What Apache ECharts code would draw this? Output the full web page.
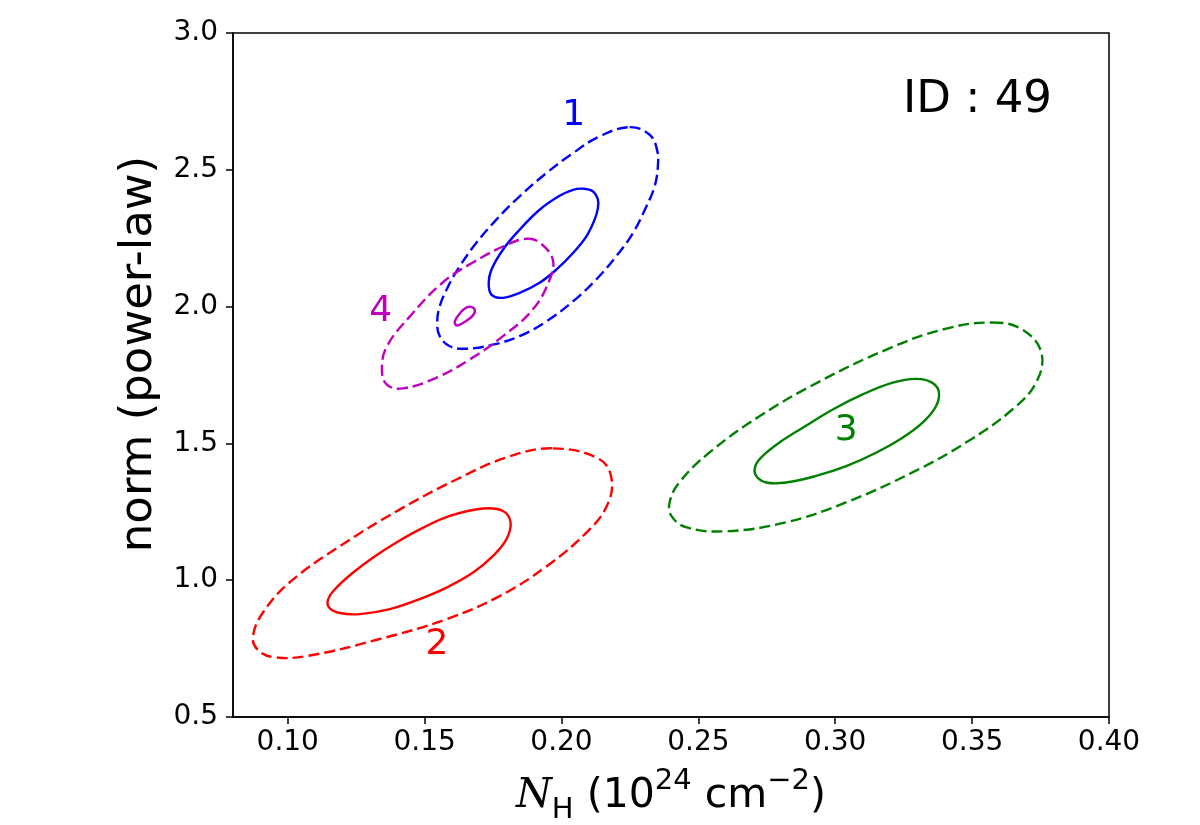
<!DOCTYPE html>
<html>
<head>
<meta charset="utf-8">
<script src="https://cdn.jsdelivr.net/npm/echarts@6/dist/echarts.min.js"></script>
<style>
  html, body { margin: 0; padding: 0; background: #fff; }
  #chart { width: 1200px; height: 825px; }
</style>
</head>
<body>
<div id="chart"></div>
<script>
// contour points: [N_H, norm], each a closed loop
const c1Outer = [[0.2249, 2.656], [0.2322, 2.628], [0.2349, 2.573], [0.2352, 2.512], [0.234, 2.439], [0.231, 2.366], [0.2261, 2.269], [0.22, 2.184], [0.2127, 2.099], [0.2042, 2.019], [0.1945, 1.946], [0.1847, 1.892], [0.175, 1.861], [0.1653, 1.846], [0.1592, 1.855], [0.1555, 1.892], [0.1546, 1.941], [0.1555, 2.001], [0.1586, 2.074], [0.1628, 2.147], [0.1689, 2.233], [0.1762, 2.318], [0.1847, 2.403], [0.1945, 2.488], [0.2042, 2.561], [0.2139, 2.622]];
const c1Inner = [[0.2078, 2.431], [0.2115, 2.421], [0.2133, 2.391], [0.2133, 2.36], [0.2121, 2.318], [0.2091, 2.257], [0.2042, 2.196], [0.1981, 2.135], [0.192, 2.087], [0.1847, 2.05], [0.1786, 2.032], [0.1744, 2.044], [0.1734, 2.087], [0.1744, 2.135], [0.1786, 2.208], [0.1847, 2.281], [0.192, 2.354], [0.1993, 2.405], [0.2042, 2.427]];
const c2Outer = [[0.1968, 1.482], [0.2139, 1.442], [0.2183, 1.369], [0.2165, 1.27], [0.2092, 1.175], [0.1946, 1.051], [0.1774, 0.942], [0.1581, 0.858], [0.1336, 0.785], [0.107, 0.723], [0.0946, 0.719], [0.0888, 0.748], [0.0873, 0.796], [0.091, 0.883], [0.1008, 0.993], [0.119, 1.124], [0.141, 1.259], [0.1618, 1.369], [0.18, 1.449]];
const c2Inner = [[0.1714, 1.262], [0.1786, 1.253], [0.1814, 1.211], [0.1799, 1.15], [0.175, 1.089], [0.1677, 1.028], [0.158, 0.973], [0.1482, 0.931], [0.1373, 0.894], [0.1264, 0.876], [0.119, 0.88], [0.1151, 0.9], [0.1148, 0.931], [0.1178, 0.973], [0.1239, 1.028], [0.1312, 1.083], [0.1397, 1.138], [0.1495, 1.192], [0.1592, 1.235]];
const c3Outer = [[0.3574, 1.942], [0.3683, 1.916], [0.3753, 1.832], [0.3734, 1.723], [0.3647, 1.624], [0.3479, 1.504], [0.3282, 1.394], [0.3041, 1.285], [0.2822, 1.212], [0.2603, 1.179], [0.2457, 1.193], [0.2402, 1.234], [0.2395, 1.285], [0.2431, 1.358], [0.2541, 1.467], [0.2723, 1.599], [0.2942, 1.726], [0.3187, 1.843], [0.3391, 1.916]];
const c3Inner = [[0.3295, 1.736], [0.335, 1.724], [0.3378, 1.691], [0.3368, 1.636], [0.3319, 1.576], [0.3246, 1.521], [0.3149, 1.466], [0.304, 1.417], [0.293, 1.381], [0.2821, 1.357], [0.2748, 1.357], [0.2711, 1.381], [0.2708, 1.417], [0.2735, 1.454], [0.2796, 1.503], [0.2881, 1.557], [0.2991, 1.624], [0.31, 1.679], [0.321, 1.722]];
const c4Outer = [[0.1873, 2.248], [0.192, 2.234], [0.1968, 2.172], [0.1957, 2.099], [0.1895, 1.989], [0.1785, 1.891], [0.1665, 1.807], [0.1545, 1.741], [0.142, 1.701], [0.1362, 1.715], [0.1344, 1.77], [0.1362, 1.854], [0.1446, 1.964], [0.1566, 2.088], [0.1676, 2.161], [0.18, 2.226]];
const c4Inner = [[0.1665, 2.0], [0.1683, 1.989], [0.1676, 1.967], [0.1643, 1.942], [0.1618, 1.931], [0.161, 1.945], [0.1628, 1.974], [0.1647, 1.993]];

const regionLabels = [['1', 0.2045, 2.697], ['4', 0.134, 1.982], ['2', 0.1545, 0.766], ['3', 0.304, 1.547]];
const regionColors = ['#0000ff', '#bf00bf', '#ff0000', '#008000'];

const xTicks = [0.10, 0.15, 0.20, 0.25, 0.30, 0.35, 0.40];
const yTicks = [0.5, 1.0, 1.5, 2.0, 2.5, 3.0];

const chart = echarts.init(document.getElementById('chart'));

// closed smooth loop through the read points, drawn once per series
function contour(points, color, dashed) {
  return {
    type: 'custom',
    silent: true,
    data: points,
    encode: { x: 0, y: 1 },
    renderItem: (params, api) => {
      if (params.dataIndex !== 0) return null;
      return {
        type: 'polygon',
        shape: { points: points.map(p => api.coord(p)), smooth: 0.4 },
        style: { fill: 'none', stroke: color, lineWidth: 2.4, lineDash: dashed ? [11, 5] : null }
      };
    }
  };
}

const axisText = { color: '#000', fontSize: 28, fontFamily: 'DejaVu Sans' };

chart.setOption({
  animation: false,
  backgroundColor: '#fff',
  grid: {
    left: 233, right: 91, top: 33, bottom: 108,
    outerBoundsMode: 'none',
    show: true, borderColor: '#000', borderWidth: 1.5
  },
  xAxis: {
    type: 'value',
    min: 0.08, max: 0.40,
    interval: 0.01,
    axisLine: { show: true, lineStyle: { color: '#000', width: 1.5 } },
    axisTick: { show: true, length: 7, lineStyle: { color: '#000', width: 1.5 },
      customValues: xTicks },
    axisLabel: Object.assign({ margin: 12, customValues: xTicks,
      formatter: v => v.toFixed(2) }, axisText),
    splitLine: { show: false },
    name: '{i|N}{sub|H} (10{sup|24} cm{sup|\u22122})',
    nameLocation: 'middle',
    nameGap: 50,
    nameTextStyle: {
      color: '#000', fontSize: 41, fontFamily: 'DejaVu Sans',
      rich: {
        i: { fontSize: 41, fontFamily: 'DejaVu Serif', fontStyle: 'italic', color: '#000', lineHeight: 58 },
        sub: { fontSize: 29, fontFamily: 'DejaVu Sans', color: '#000', verticalAlign: 'bottom', lineHeight: 58 },
        sup: { fontSize: 29, fontFamily: 'DejaVu Sans', color: '#000', verticalAlign: 'top', lineHeight: 58 }
      }
    }
  },
  yAxis: {
    type: 'value',
    min: 0.5, max: 3.0,
    interval: 0.5,
    axisLine: { show: true, lineStyle: { color: '#000', width: 1.5 } },
    axisTick: { show: true, length: 7, lineStyle: { color: '#000', width: 1.5 },
      customValues: yTicks },
    axisLabel: Object.assign({ margin: 15, customValues: yTicks,
      formatter: v => v.toFixed(1) }, axisText),
    splitLine: { show: false }
  },
  series: [
    contour(c1Outer, '#0000ff', true),
    contour(c1Inner, '#0000ff', false),
    contour(c4Outer, '#bf00bf', true),
    contour(c4Inner, '#bf00bf', false),
    contour(c2Outer, '#ff0000', true),
    contour(c2Inner, '#ff0000', false),
    contour(c3Outer, '#008000', true),
    contour(c3Inner, '#008000', false)
  ]
});

// region numbers placed through the chart's own axes
const labelGraphics = regionLabels.map((l, i) => {
  const p = chart.convertToPixel({ gridIndex: 0 }, [l[1], l[2]]);
  return {
    type: 'text',
    x: p[0], y: p[1],
    silent: true,
    style: { text: l[0], fill: regionColors[i], fontSize: 36, fontFamily: 'DejaVu Sans',
      align: 'center', verticalAlign: 'middle' }
  };
});
labelGraphics.push({
  type: 'text',
  left: 903,
  top: 78,
  style: { text: 'ID : 49', fill: '#000', fontSize: 45, fontFamily: 'DejaVu Sans' }
});
// y-axis title sits a little above the axis centre in the original
labelGraphics.push({
  type: 'text',
  x: 139, y: 354,
  rotation: Math.PI / 2,
  style: { text: 'norm (power-law)', fill: '#000', fontSize: 45, fontFamily: 'DejaVu Sans',
    align: 'center', verticalAlign: 'middle' }
});
chart.setOption({ graphic: labelGraphics });
</script>
</body>
</html>
